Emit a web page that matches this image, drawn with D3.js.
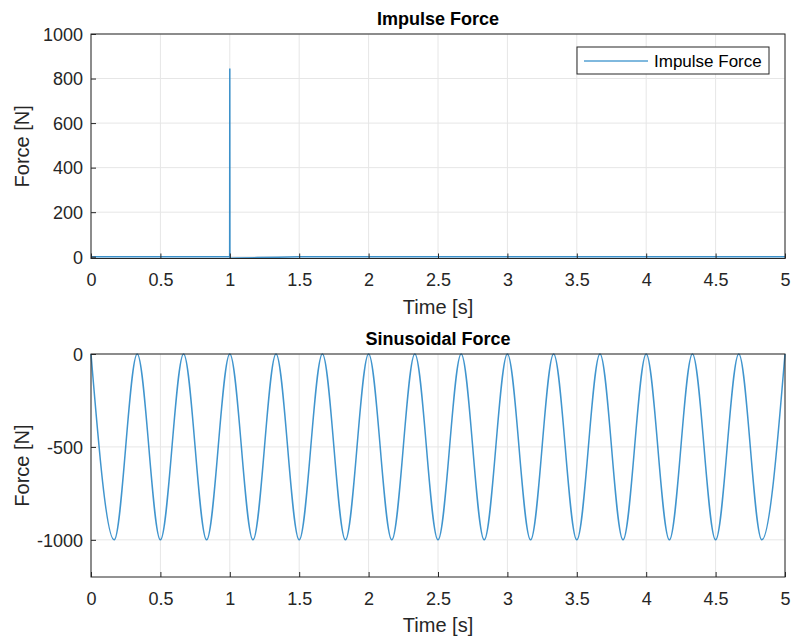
<!DOCTYPE html>
<html>
<head>
<meta charset="utf-8">
<script src="https://cdnjs.cloudflare.com/ajax/libs/d3/7.8.5/d3.min.js"></script>
<style>
  body { margin: 0; background: #fff; }
  svg { font-family: "Liberation Sans", Arial, Helvetica, sans-serif; }
</style>
</head>
<body>
<svg id="chart" width="793" height="638"></svg>
<script>
// tick labels
const xTicks = [0, 0.5, 1, 1.5, 2, 2.5, 3, 3.5, 4, 4.5, 5];
const impulseTicks = [0, 200, 400, 600, 800, 1000];
const sinTicks = [-1000, -500, 0];

// impulse force
const impulseTimes = [0, 0.999, 1.0, 1.001, 1.05, 1.2, 1.35, 1.5, 5];
const impulseValues = [0, 0, 845, -7, -6, -4, -2, 0, 0];

// sinusoidal force: peaks and troughs
const sinTimes = [0, 0.167, 0.333, 0.5, 0.667, 0.833, 1.0, 1.167, 1.333, 1.5, 1.667, 1.833,
  2.0, 2.167, 2.333, 2.5, 2.667, 2.833, 3.0, 3.167, 3.333, 3.5, 3.667, 3.833,
  4.0, 4.167, 4.333, 4.5, 4.667, 4.833, 5.0];
const sinValues = [0, -1000, 0, -1000, 0, -1000, 0, -1000, 0, -1000, 0, -1000,
  0, -1000, 0, -1000, 0, -1000, 0, -1000, 0, -1000, 0, -1000,
  0, -1000, 0, -1000, 0, -1000, 0];

const svg = d3.select('#chart');
const lineColor = '#0072BD';
const axisColor = '#262626';

const x = d3.scaleLinear().domain([0, 5]).range([91, 785]);

function drawPanel(opts) {
    const y = d3.scaleLinear().domain(opts.yDomain).range([opts.bottom, opts.top]);
    const g = svg.append('g');

    // grid
    g.selectAll('.gx').data(xTicks).enter().append('line')
        .attr('x1', d => x(d)).attr('x2', d => x(d))
        .attr('y1', opts.top).attr('y2', opts.bottom)
        .attr('stroke', '#e6e6e6').attr('stroke-width', 1);
    g.selectAll('.gy').data(opts.yTicks).enter().append('line')
        .attr('x1', x.range()[0]).attr('x2', x.range()[1])
        .attr('y1', d => y(d)).attr('y2', d => y(d))
        .attr('stroke', '#e6e6e6').attr('stroke-width', 1);

    // data
    const line = d3.line()
        .x((d, i) => x(opts.times[i]))
        .y(d => y(d))
        .curve(opts.curve);
    g.append('path')
        .datum(opts.values)
        .attr('d', line)
        .attr('fill', 'none')
        .attr('stroke', lineColor)
        .attr('stroke-opacity', 0.75)
        .attr('stroke-width', 1.5);

    // axes with inward ticks (matlab style), plain hyphen for minus
    const xAxis = d3.axisBottom(x).tickValues(xTicks).tickSize(-5).tickPadding(15)
        .tickFormat(d => String(d));
    const yAxis = d3.axisLeft(y).tickValues(opts.yTicks).tickSize(-5).tickPadding(8)
        .tickFormat(d => String(d));

    const gx = g.append('g').attr('transform', `translate(0,${opts.bottom})`).call(xAxis);
    const gy = g.append('g').attr('transform', `translate(${x.range()[0]},0)`).call(yAxis);
    [gx, gy].forEach(a => {
        a.select('.domain').remove();
        a.selectAll('line').attr('stroke', axisColor);
        a.selectAll('text').attr('fill', axisColor).attr('font-size', 18);
    });
    gy.selectAll('text').attr('dy', '0.35em');

    // box
    g.append('rect')
        .attr('x', x.range()[0]).attr('y', opts.top)
        .attr('width', x.range()[1] - x.range()[0])
        .attr('height', opts.bottom - opts.top)
        .attr('fill', 'none').attr('stroke', axisColor).attr('stroke-width', 1);

    // title and labels
    g.append('text')
        .attr('x', (x.range()[0] + x.range()[1]) / 2).attr('y', opts.top - 9)
        .attr('text-anchor', 'middle').attr('font-size', 18).attr('font-weight', 'bold')
        .attr('fill', '#000').text(opts.title);
    g.append('text')
        .attr('x', (x.range()[0] + x.range()[1]) / 2).attr('y', opts.bottom + 55)
        .attr('text-anchor', 'middle').attr('font-size', 20)
        .attr('fill', axisColor).text('Time [s]');
    g.append('text')
        .attr('transform', `translate(29,${(opts.top + opts.bottom) / 2}) rotate(-90)`)
        .attr('text-anchor', 'middle').attr('font-size', 20)
        .attr('fill', axisColor).text('Force [N]');
    return g;
}

drawPanel({
    title: 'Impulse Force', top: 34, bottom: 258.5, yDomain: [-8, 1000],
    yTicks: impulseTicks, times: impulseTimes, values: impulseValues, curve: d3.curveLinear
});

drawPanel({
    title: 'Sinusoidal Force', top: 354, bottom: 577, yDomain: [-1200, 0],
    yTicks: sinTicks, times: sinTimes, values: sinValues, curve: d3.curveMonotoneX
});

// legend in top panel
const legend = svg.append('g');
legend.append('rect')
    .attr('x', 577).attr('y', 47).attr('width', 192).attr('height', 27)
    .attr('fill', '#fff').attr('stroke', axisColor).attr('stroke-width', 1);
legend.append('line')
    .attr('x1', 584).attr('x2', 648).attr('y1', 61).attr('y2', 61)
    .attr('stroke', lineColor).attr('stroke-width', 1);
legend.append('text')
    .attr('x', 654).attr('y', 67).attr('font-size', 17)
    .attr('fill', '#000').text('Impulse Force');
</script>
</body>
</html>
